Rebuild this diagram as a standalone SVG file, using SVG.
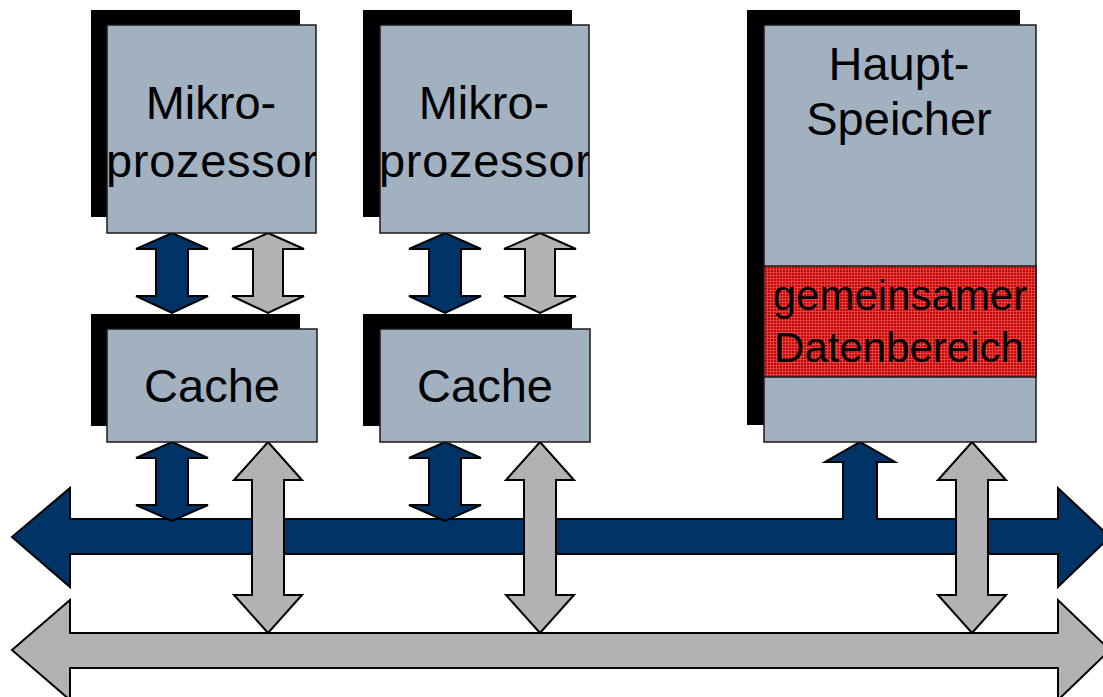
<svg xmlns="http://www.w3.org/2000/svg" width="1103" height="697" viewBox="0 0 1103 697">
<style>
.shadow{fill:#000}
.box{fill:#a2b1c0;stroke:#1a1a1a;stroke-width:1.5}
.lbl{font-family:"Liberation Sans",Arial,sans-serif;font-size:47px;fill:#000;text-anchor:middle}
.lbl2{font-family:"Liberation Sans",Arial,sans-serif;font-size:42px;fill:#000;text-anchor:middle}
.blue{fill:#003366;stroke:#000;stroke-width:2;stroke-linejoin:miter}
.gray{fill:#b2b2b2;stroke:#000;stroke-width:2;stroke-linejoin:miter}
</style>
<defs>
<pattern id="hatch" width="3" height="3" patternUnits="userSpaceOnUse">
<rect width="3" height="3" fill="#cc0000"/>
<rect x="0" y="2" width="3" height="1" fill="#dd4444"/>
<rect x="2" y="0" width="1" height="3" fill="#dd4444"/>
</pattern>
<clipPath id="c1"><rect x="107" y="25" width="209" height="208"/></clipPath>
<clipPath id="c2"><rect x="380" y="25" width="209" height="208"/></clipPath>
</defs>
<rect width="1103" height="697" fill="#fff"/>

<g id="connectors">
<path class="blue" d="M12,537 L70,488 L70,519 L1058,519 L1058,488 L1110,537 L1058,587 L1058,554 L70,554 L70,587 Z"/>
<path class="gray" d="M12,650 L70,600 L70,633 L1058,633 L1058,600 L1110,650 L1058,700 L1058,668 L70,668 L70,700 Z"/>

<path class="blue" d="M172,233 L208,249 L188,249 L188,296 L208,296 L172,313 L136,296 L156,296 L156,249 L136,249 Z"/>
<path class="gray" d="M268,233 L304,249 L283,249 L283,296 L304,296 L268,313 L232,296 L253,296 L253,249 L232,249 Z"/>
<path class="blue" d="M445,233 L481,249 L461,249 L461,296 L481,296 L445,313 L409,296 L429,296 L429,249 L409,249 Z"/>
<path class="gray" d="M540,233 L576,249 L555,249 L555,296 L576,296 L540,313 L504,296 L525,296 L525,249 L504,249 Z"/>

<path class="blue" d="M172,442 L208,458 L188,458 L188,505 L208,505 L172,521 L136,505 L156,505 L156,458 L136,458 Z"/>
<path class="gray" d="M268,442 L302,480 L284,480 L284,595 L302,595 L268,633 L234,595 L252,595 L252,480 L234,480 Z"/>
<path class="blue" d="M445,442 L481,458 L461,458 L461,505 L481,505 L445,521 L409,505 L429,505 L429,458 L409,458 Z"/>
<path class="gray" d="M540,442 L574,480 L556,480 L556,595 L574,595 L540,633 L506,595 L524,595 L524,480 L506,480 Z"/>

<path class="blue" d="M843,520 L843,462 L825,462 L860,442 L895,462 L877,462 L877,520"/>
<path class="gray" d="M972,442 L1006,480 L988,480 L988,595 L1006,595 L972,633 L938,595 L956,595 L956,480 L938,480 Z"/>
</g>

<g id="cpu1">
<rect class="shadow" x="91" y="10" width="209" height="207"/>
<rect class="box" x="107" y="25" width="209" height="208"/>
<g clip-path="url(#c1)">
<text class="lbl" x="211" y="119">Mikro-</text>
<text class="lbl" x="212" y="177" textLength="212" lengthAdjust="spacing">prozessor</text>
</g>
</g>

<g id="cpu2">
<rect class="shadow" x="363" y="10" width="209" height="207"/>
<rect class="box" x="380" y="25" width="209" height="208"/>
<g clip-path="url(#c2)">
<text class="lbl" x="484" y="119">Mikro-</text>
<text class="lbl" x="485" y="177" textLength="212" lengthAdjust="spacing">prozessor</text>
</g>
</g>

<g id="cache1">
<rect class="shadow" x="91" y="314" width="209" height="112"/>
<rect class="box" x="107" y="329" width="210" height="113"/>
<text class="lbl" x="212" y="402">Cache</text>
</g>

<g id="cache2">
<rect class="shadow" x="363" y="314" width="209" height="112"/>
<rect class="box" x="380" y="329" width="210" height="113"/>
<text class="lbl" x="485" y="402">Cache</text>
</g>

<g id="memory">
<rect class="shadow" x="747" y="10" width="273" height="415"/>
<rect class="box" x="764" y="25" width="272" height="417"/>
<text class="lbl" x="899" y="80">Haupt-</text>
<text class="lbl" x="899" y="135">Speicher</text>
<rect x="764" y="266" width="272" height="111" fill="url(#hatch)" stroke="#1a1a1a" stroke-width="1.5"/>
<text class="lbl2" x="900" y="310">gemeinsamer</text>
<text class="lbl2" x="899" y="362">Datenbereich</text>
</g>
</svg>
